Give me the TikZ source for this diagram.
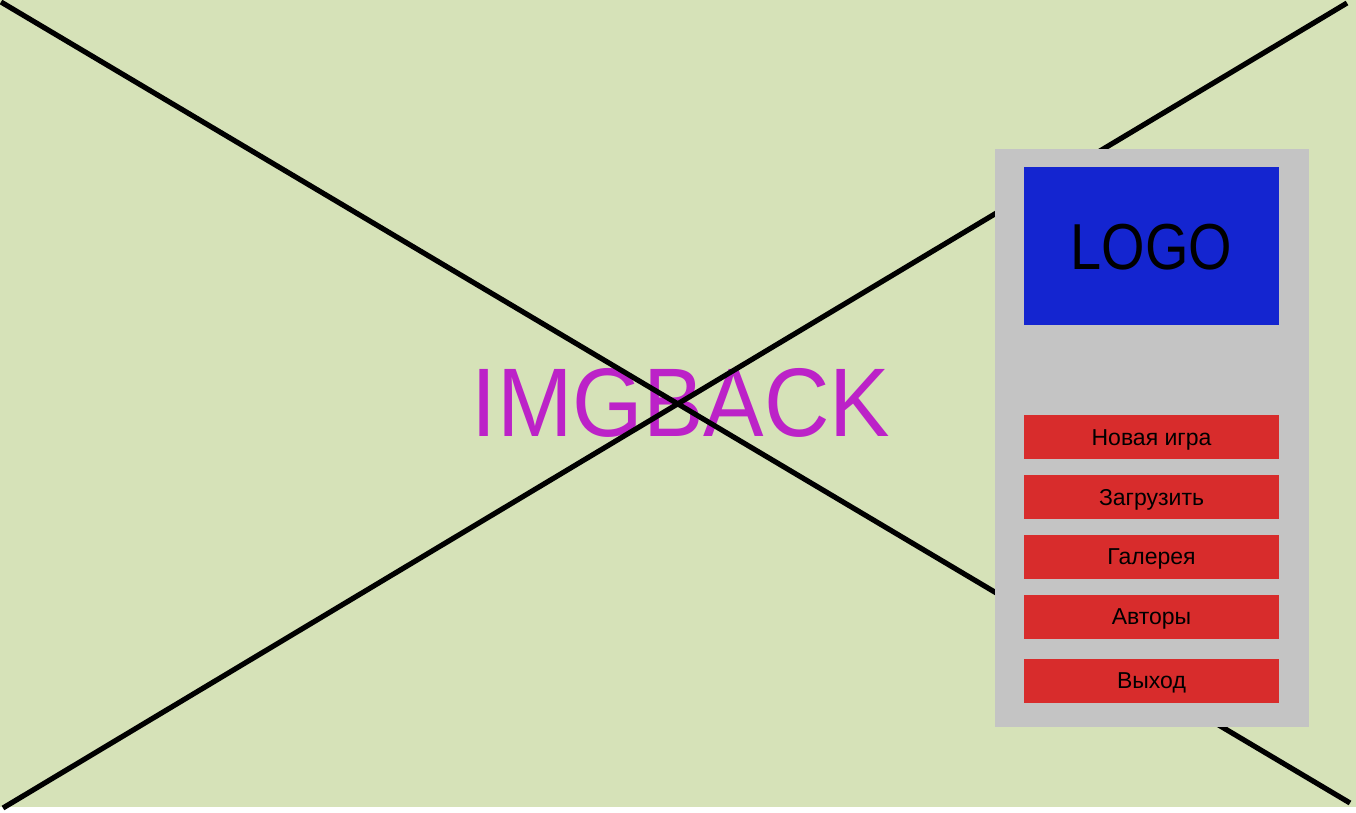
\documentclass[tikz,border=0pt]{standalone}
\usepackage{fontspec}
\setmainfont{Liberation Sans}
\newfontfamily\bigsans[FakeStretch=0.93]{Liberation Sans}
\newfontfamily\logosans[FakeStretch=0.86]{Liberation Sans}
\definecolor{bggreen}{HTML}{D6E2B8}
\definecolor{panelgray}{HTML}{C4C4C4}
\definecolor{logoblue}{HTML}{1425D0}
\definecolor{btnred}{HTML}{D82C2C}
\definecolor{imgmag}{HTML}{BC22C8}
\tikzset{
  btn/.style={fill=btnred, draw=none, inner sep=0pt, minimum width=255pt, minimum height=44pt,
    text height=16.5pt, text depth=0pt, font=\fontsize{23}{25}\selectfont},
  crossline/.style={line width=5.2pt, black}
}
\begin{document}
\begin{tikzpicture}[x=1pt,y=-1pt]
\useasboundingbox (0,0) rectangle (1356,813);
\fill[white] (0,0) rectangle (1356,813);
\fill[bggreen] (0,0) rectangle (1356,806.5);
\node[anchor=base, text=imgmag, inner sep=0pt, font=\bigsans\fontsize{97.5}{100}\selectfont] (img) at (681,436) {IMGBACK};
\coordinate (tl) at (1,2);
\coordinate (br) at (1350,803);
\coordinate (tr) at (1347,3);
\coordinate (bl) at (3,808);
\draw[crossline] (tl) -- (br);
\draw[crossline] (tr) -- (bl);
\node[fill=panelgray, draw=none, inner sep=0pt, minimum width=314pt, minimum height=578pt] (panel) at (1152,438) {};
\node[fill=logoblue, draw=none, inner sep=0pt, minimum width=255pt, minimum height=158pt,
  text height=46.5pt, text depth=0pt, font=\logosans\fontsize{65}{70}\selectfont] (logo) at (1151.5,246) {LOGO};
\node[btn] (b1) at (1151.5,437) {Новая игра};
\node[btn] (b2) at (1151.5,497) {Загрузить};
\node[btn] (b3) at (1151.5,556.5) {Галерея};
\node[btn] (b4) at (1151.5,616.5) {Авторы};
\node[btn] (b5) at (1151.5,680.5) {Выход};
\end{tikzpicture}
\end{document}
